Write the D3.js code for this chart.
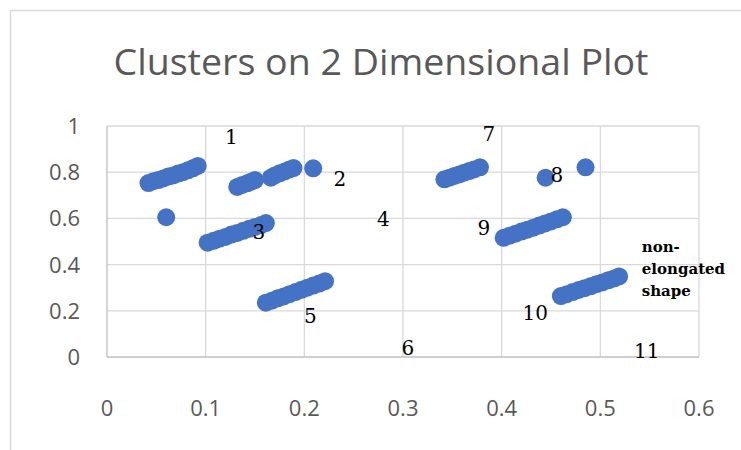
<!DOCTYPE html>
<html>
<head>
<meta charset="utf-8">
<script src="https://cdn.jsdelivr.net/npm/d3@7"></script>
<style>
  body { margin: 0; background: #fff; }
</style>
</head>
<body>
<svg id="chart"></svg>
<script>
// Values (data space)
const xTicks = [0, 0.1, 0.2, 0.3, 0.4, 0.5, 0.6];
const yTicks = [0, 0.2, 0.4, 0.6, 0.8, 1];

const pointsX = [
  // cluster near "1"
  0.042, 0.047, 0.052, 0.057, 0.062, 0.067, 0.072, 0.077, 0.082, 0.087, 0.092,
  // lone point
  0.060,
  // cluster near "2"
  0.132, 0.137, 0.142, 0.146, 0.150,
  0.166, 0.170, 0.175, 0.180, 0.185, 0.189,
  0.209,
  // cluster "3"
  0.102, 0.108, 0.114, 0.120, 0.126, 0.132, 0.138, 0.144, 0.150, 0.156, 0.161,
  // cluster "5"
  0.161, 0.167, 0.173, 0.179, 0.185, 0.191, 0.197, 0.203, 0.209, 0.215, 0.221,
  // cluster "7"
  0.342, 0.347, 0.352, 0.357, 0.362, 0.367, 0.372, 0.378,
  // "8"
  0.4445, 0.485,
  // cluster "9"
  0.402, 0.408, 0.414, 0.420, 0.426, 0.432, 0.438, 0.444, 0.450, 0.456, 0.462,
  // cluster "10"
  0.460, 0.466, 0.472, 0.478, 0.484, 0.490, 0.496, 0.502, 0.508, 0.514, 0.519
];
const pointsY = [
  0.753, 0.761, 0.766, 0.773, 0.781, 0.786, 0.794, 0.800, 0.808, 0.817, 0.827,
  0.605,
  0.736, 0.745, 0.752, 0.759, 0.766,
  0.776, 0.786, 0.795, 0.803, 0.812, 0.818,
  0.817,
  0.495, 0.503, 0.512, 0.520, 0.530, 0.537, 0.546, 0.555, 0.563, 0.571, 0.580,
  0.235, 0.244, 0.254, 0.262, 0.272, 0.281, 0.291, 0.300, 0.309, 0.318, 0.328,
  0.769, 0.776, 0.784, 0.790, 0.798, 0.805, 0.812, 0.821,
  0.776, 0.821,
  0.516, 0.525, 0.534, 0.543, 0.551, 0.560, 0.569, 0.578, 0.587, 0.596, 0.605,
  0.264, 0.272, 0.281, 0.290, 0.298, 0.306, 0.315, 0.323, 0.332, 0.340, 0.349
];

// Cluster number annotations (centre in data space)
const noteText = ["1", "2", "3", "4", "5", "6", "7", "8", "9", "10", "11"];
const noteX = [0.126, 0.236, 0.154, 0.280, 0.206, 0.305, 0.387, 0.456, 0.382, 0.434, 0.547];
const noteY = [0.954, 0.771, 0.543, 0.598, 0.178, 0.039, 0.966, 0.787, 0.558, 0.190, 0.027];

const shapeLines = ["non-", "elongated", "shape"];
const shapeX = 0.542, shapeY = 0.48;

const title = "Clusters on 2 Dimensional Plot";

// Sizes
const width = 741;
const height = 450;
const marginTop = 126;
const marginRight = 42;
const marginBottom = 93;
const marginLeft = 107;

const x = d3.scaleLinear()
    .domain([0, 0.6])
    .range([marginLeft, width - marginRight]);

const y = d3.scaleLinear()
    .domain([0, 1])
    .range([height - marginBottom, marginTop]);

const svg = d3.select("#chart")
    .attr("width", width)
    .attr("height", height)
    .attr("viewBox", [0, 0, width, height]);

svg.append("rect")
    .attr("width", width)
    .attr("height", height)
    .attr("fill", "#fff");

// chart frame (only left and top edge visible)
svg.append("path")
    .attr("d", `M10.5,${height}V10.5H${width}`)
    .attr("fill", "none")
    .attr("stroke", "#d9d9d9")
    .attr("stroke-width", 1.5);

svg.append("text")
    .attr("x", 381)
    .attr("y", 75)
    .attr("text-anchor", "middle")
    .attr("fill", "#595959")
    .attr("font-family", "'Open Sans', sans-serif")
    .attr("font-size", 36)
    .attr("textLength", 535)
    .attr("lengthAdjust", "spacingAndGlyphs")
    .text(title);

// Gridlines
svg.append("g")
    .attr("stroke", "#d9d9d9")
    .attr("stroke-width", 1.3)
  .selectAll("line.v")
  .data(xTicks.slice(1))
  .join("line")
    .attr("x1", d => x(d)).attr("x2", d => x(d))
    .attr("y1", y(0)).attr("y2", y(1));

svg.append("g")
    .attr("stroke", "#d9d9d9")
    .attr("stroke-width", 1.3)
  .selectAll("line.h")
  .data(yTicks.slice(1))
  .join("line")
    .attr("x1", x(0)).attr("x2", x(0.6))
    .attr("y1", d => y(d)).attr("y2", d => y(d));

// Axes lines
svg.append("line")
    .attr("x1", x(0)).attr("x2", x(0))
    .attr("y1", y(0)).attr("y2", y(1))
    .attr("stroke", "#bfbfbf").attr("stroke-width", 1.3);
svg.append("line")
    .attr("x1", x(0)).attr("x2", x(0.6))
    .attr("y1", y(0)).attr("y2", y(0))
    .attr("stroke", "#bfbfbf").attr("stroke-width", 1.3);

// Tick labels
svg.append("g")
    .attr("fill", "#595959")
    .attr("font-family", "'Open Sans', sans-serif")
    .attr("font-size", 22)
    .attr("text-anchor", "end")
  .selectAll("text")
  .data(yTicks)
  .join("text")
    .attr("x", 80)
    .attr("y", d => y(d))
    .attr("dy", "0.36em")
    .text(d => d3.format("")(d));

svg.append("g")
    .attr("fill", "#595959")
    .attr("font-family", "'Open Sans', sans-serif")
    .attr("font-size", 22)
    .attr("text-anchor", "middle")
  .selectAll("text")
  .data(xTicks)
  .join("text")
    .attr("x", d => x(d))
    .attr("y", 408)
    .attr("dy", "0.36em")
    .text(d => d3.format("")(d));

// Points
svg.append("g")
    .attr("fill", "#4472c4")
  .selectAll("circle")
  .data(d3.range(pointsX.length))
  .join("circle")
    .attr("cx", i => x(pointsX[i]))
    .attr("cy", i => y(pointsY[i]))
    .attr("r", 9);

// Annotations
svg.append("g")
    .attr("fill", "#000")
    .attr("font-family", "'DejaVu Serif', serif")
    .attr("font-size", 20)
    .attr("text-anchor", "middle")
  .selectAll("text")
  .data(noteText)
  .join("text")
    .attr("x", (d, i) => x(noteX[i]))
    .attr("y", (d, i) => y(noteY[i]))
    .attr("dy", "0.36em")
    .text(d => d);

svg.append("text")
    .attr("x", x(shapeX))
    .attr("y", y(shapeY))
    .attr("fill", "#000")
    .attr("font-family", "'DejaVu Serif', serif")
    .attr("font-weight", "bold")
    .attr("font-size", 15)
  .selectAll("tspan")
  .data(shapeLines)
  .join("tspan")
    .attr("x", x(shapeX))
    .attr("dy", (d, i) => i === 0 ? "0.36em" : 22)
    .text(d => d);
</script>
</body>
</html>
